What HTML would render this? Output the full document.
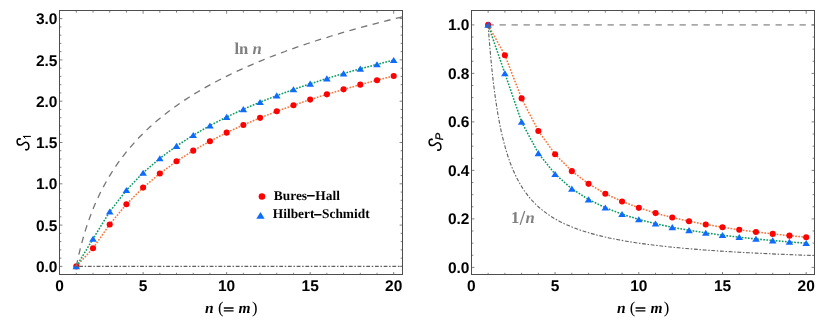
<!DOCTYPE html>
<html><head><meta charset="utf-8"><title>chart</title>
<style>
html,body{margin:0;padding:0;background:#fff;}
body{width:830px;height:328px;overflow:hidden;}
svg{display:block;will-change:transform;}
text{text-rendering:geometricPrecision;}
.tk{font-family:"Liberation Sans",sans-serif;font-weight:bold;font-size:15.5px;fill:#000;}
.ax{font-family:"Liberation Serif",serif;font-weight:bold;font-style:italic;font-size:15.5px;fill:#000;}
.axr{font-family:"Liberation Serif",serif;font-size:16.6px;fill:#000;}
.sub{font-family:"Liberation Sans",sans-serif;font-size:11px;fill:#000;}
.subi{font-family:"Liberation Sans",sans-serif;font-style:italic;font-size:11px;fill:#000;}
.an{font-family:"Liberation Serif",serif;font-weight:bold;font-size:16.6px;fill:#808080;}
.ani{font-style:italic;}
.lg{font-family:"Liberation Serif",serif;font-weight:bold;font-size:13.4px;fill:#000;}
</style></head><body>
<svg width="830" height="328" viewBox="0 0 830 328">
<rect width="830" height="328" fill="#fff"/>
<clipPath id="cl"><rect x="59.5" y="10.5" width="343.0" height="264.0"/></clipPath>
<g clip-path="url(#cl)" fill="none">
<path d="M76.3 266.4L93.0 248.3L109.7 224.4L126.4 204.3L143.1 187.6L159.8 173.5L176.5 161.3L193.2 150.7L209.9 141.2L226.6 132.7L243.4 124.9L260.1 117.9L276.8 111.3L293.5 105.3L310.2 99.6L326.9 94.3L343.6 89.4L360.3 84.7L377.0 80.2L393.7 76.0" stroke="#F8763E" stroke-width="1.55" stroke-dasharray="1.7 1.4"/>
<path d="M76.3 266.4L93.0 238.9L109.7 211.7L126.4 190.2L143.1 172.8L159.8 158.4L176.5 146.0L193.2 135.2L209.9 125.6L226.6 117.0L243.4 109.2L260.1 102.1L276.8 95.6L293.5 89.5L310.2 83.8L326.9 78.5L343.6 73.5L360.3 68.8L377.0 64.4L393.7 60.1" stroke="#0C9B64" stroke-width="1.55" stroke-dasharray="1.7 1.4"/>
</g>
<circle cx="76.31" cy="266.40" r="3.05" fill="#FC0202"/>
<circle cx="93.01" cy="248.26" r="3.05" fill="#FC0202"/>
<circle cx="109.72" cy="224.44" r="3.05" fill="#FC0202"/>
<circle cx="126.42" cy="204.30" r="3.05" fill="#FC0202"/>
<circle cx="143.12" cy="187.59" r="3.05" fill="#FC0202"/>
<circle cx="159.83" cy="173.48" r="3.05" fill="#FC0202"/>
<circle cx="176.53" cy="161.32" r="3.05" fill="#FC0202"/>
<circle cx="193.24" cy="150.66" r="3.05" fill="#FC0202"/>
<circle cx="209.94" cy="141.19" r="3.05" fill="#FC0202"/>
<circle cx="226.65" cy="132.67" r="3.05" fill="#FC0202"/>
<circle cx="243.35" cy="124.94" r="3.05" fill="#FC0202"/>
<circle cx="260.06" cy="117.85" r="3.05" fill="#FC0202"/>
<circle cx="276.76" cy="111.32" r="3.05" fill="#FC0202"/>
<circle cx="293.47" cy="105.26" r="3.05" fill="#FC0202"/>
<circle cx="310.18" cy="99.62" r="3.05" fill="#FC0202"/>
<circle cx="326.88" cy="94.33" r="3.05" fill="#FC0202"/>
<circle cx="343.58" cy="89.36" r="3.05" fill="#FC0202"/>
<circle cx="360.29" cy="84.67" r="3.05" fill="#FC0202"/>
<circle cx="377.00" cy="80.22" r="3.05" fill="#FC0202"/>
<circle cx="393.70" cy="76.01" r="3.05" fill="#FC0202"/>
<path d="M76.31 263.20 L80.11 269.30 L72.51 269.30 Z" fill="#0F6BFB"/>
<path d="M93.01 235.67 L96.81 241.77 L89.21 241.77 Z" fill="#0F6BFB"/>
<path d="M109.72 208.49 L113.52 214.59 L105.92 214.59 Z" fill="#0F6BFB"/>
<path d="M126.42 187.01 L130.22 193.11 L122.62 193.11 Z" fill="#0F6BFB"/>
<path d="M143.12 169.65 L146.93 175.75 L139.32 175.75 Z" fill="#0F6BFB"/>
<path d="M159.83 155.17 L163.63 161.27 L156.03 161.27 Z" fill="#0F6BFB"/>
<path d="M176.53 142.79 L180.34 148.89 L172.73 148.89 Z" fill="#0F6BFB"/>
<path d="M193.24 131.99 L197.04 138.09 L189.44 138.09 Z" fill="#0F6BFB"/>
<path d="M209.94 122.42 L213.74 128.52 L206.14 128.52 Z" fill="#0F6BFB"/>
<path d="M226.65 113.83 L230.45 119.93 L222.85 119.93 Z" fill="#0F6BFB"/>
<path d="M243.35 106.04 L247.16 112.14 L239.55 112.14 Z" fill="#0F6BFB"/>
<path d="M260.06 98.91 L263.86 105.01 L256.26 105.01 Z" fill="#0F6BFB"/>
<path d="M276.76 92.35 L280.56 98.45 L272.96 98.45 Z" fill="#0F6BFB"/>
<path d="M293.47 86.27 L297.27 92.37 L289.67 92.37 Z" fill="#0F6BFB"/>
<path d="M310.18 80.60 L313.98 86.70 L306.38 86.70 Z" fill="#0F6BFB"/>
<path d="M326.88 75.30 L330.68 81.40 L323.08 81.40 Z" fill="#0F6BFB"/>
<path d="M343.58 70.31 L347.38 76.41 L339.78 76.41 Z" fill="#0F6BFB"/>
<path d="M360.29 65.61 L364.09 71.71 L356.49 71.71 Z" fill="#0F6BFB"/>
<path d="M377.00 61.16 L380.80 67.26 L373.19 67.26 Z" fill="#0F6BFB"/>
<path d="M393.70 56.93 L397.50 63.03 L389.90 63.03 Z" fill="#0F6BFB"/>
<g clip-path="url(#cl)" fill="none">
<path d="M76.3 266.4L76.5 265.6L76.8 264.1L77.2 262.0L77.7 259.6L78.4 256.9L79.0 253.9L79.8 250.7L80.6 247.3L81.5 243.9L82.5 240.3L83.5 236.7L84.6 233.1L85.7 229.4L86.9 225.7L88.2 222.1L89.5 218.4L90.8 214.8L92.2 211.2L93.6 207.6L95.1 204.1L96.6 200.6L98.2 197.2L99.8 193.8L101.5 190.5L103.2 187.2L104.9 184.0L106.7 180.8L108.5 177.6L110.4 174.6L112.3 171.5L114.2 168.5L116.2 165.6L118.2 162.7L120.3 159.9L122.3 157.1L124.5 154.3L126.6 151.6L128.8 149.0L131.1 146.4L133.3 143.8L135.6 141.2L137.9 138.7L140.3 136.3L142.7 133.9L145.1 131.5L147.6 129.1L150.1 126.8L152.6 124.6L155.2 122.3L157.8 120.1L160.4 117.9L163.1 115.8L165.7 113.7L168.5 111.6L171.2 109.5L174.0 107.5L176.8 105.5L179.6 103.5L182.5 101.6L185.4 99.6L188.3 97.7L191.3 95.9L194.2 94.0L197.2 92.2L200.3 90.4L203.3 88.6L206.4 86.9L209.6 85.1L212.7 83.4L215.9 81.7L219.1 80.0L222.3 78.4L225.6 76.7L228.9 75.1L232.2 73.5L235.5 71.9L238.9 70.4L242.3 68.8L245.7 67.3L249.1 65.8L252.6 64.3L256.1 62.8L259.6 61.3L263.2 59.9L266.7 58.4L270.3 57.0L274.0 55.6L277.6 54.2L281.3 52.8L285.0 51.5L288.7 50.1L292.4 48.8L296.2 47.4L300.0 46.1L303.8 44.8L307.7 43.5L311.5 42.3L315.4 41.0L319.4 39.7L323.3 38.5L327.3 37.3L331.2 36.0L335.3 34.8L339.3 33.6L343.3 32.4L347.4 31.3L351.5 30.1L355.7 28.9L359.8 27.8L364.0 26.6L368.2 25.5L372.4 24.4L376.6 23.3L380.9 22.2L385.2 21.1L389.5 20.0L393.8 18.9L398.2 17.9L402.6 16.8" stroke="#757575" stroke-width="1.3" stroke-dasharray="6.5 5.5"/>
<path d="M76.31 266.40 L402.50 266.40" stroke="#606060" stroke-width="1.1" stroke-dasharray="3.8 1.7 1.5 1.7" stroke-dashoffset="5.85"/>
</g>
<clipPath id="cr"><rect x="471.5" y="10.5" width="343.0" height="264.0"/></clipPath>
<g clip-path="url(#cr)" fill="none">
<path d="M487.54 24.90 L814.50 24.90" stroke="#a8a8a8" stroke-width="1.9" stroke-dasharray="6.3 5.7"/>
<path d="M488.1 24.9L504.9 55.2L521.6 98.4L538.4 131.0L555.1 154.2L571.8 171.1L588.6 183.8L605.3 193.7L622.1 201.5L638.8 207.8L655.5 213.1L672.3 217.5L689.0 221.3L705.8 224.5L722.5 227.3L739.2 229.8L756.0 232.0L772.7 233.9L789.5 235.7L806.2 237.2" stroke="#F8763E" stroke-width="1.55" stroke-dasharray="1.7 1.4"/>
<path d="M488.1 24.9L504.9 73.4L521.6 121.9L538.4 153.3L555.1 174.1L571.8 188.8L588.6 199.5L605.3 207.7L622.1 214.2L638.8 219.4L655.5 223.7L672.3 227.3L689.0 230.3L705.8 232.9L722.5 235.2L739.2 237.2L756.0 239.0L772.7 240.5L789.5 241.9L806.2 243.2" stroke="#0C9B64" stroke-width="1.55" stroke-dasharray="1.7 1.4"/>
</g>
<circle cx="488.14" cy="24.90" r="3.05" fill="#FC0202"/>
<circle cx="504.88" cy="55.21" r="3.05" fill="#FC0202"/>
<circle cx="521.62" cy="98.38" r="3.05" fill="#FC0202"/>
<circle cx="538.36" cy="130.99" r="3.05" fill="#FC0202"/>
<circle cx="555.10" cy="154.23" r="3.05" fill="#FC0202"/>
<circle cx="571.84" cy="171.14" r="3.05" fill="#FC0202"/>
<circle cx="588.58" cy="183.85" r="3.05" fill="#FC0202"/>
<circle cx="605.32" cy="193.69" r="3.05" fill="#FC0202"/>
<circle cx="622.06" cy="201.50" r="3.05" fill="#FC0202"/>
<circle cx="638.80" cy="207.84" r="3.05" fill="#FC0202"/>
<circle cx="655.54" cy="213.09" r="3.05" fill="#FC0202"/>
<circle cx="672.28" cy="217.50" r="3.05" fill="#FC0202"/>
<circle cx="689.02" cy="221.26" r="3.05" fill="#FC0202"/>
<circle cx="705.76" cy="224.49" r="3.05" fill="#FC0202"/>
<circle cx="722.50" cy="227.30" r="3.05" fill="#FC0202"/>
<circle cx="739.24" cy="229.77" r="3.05" fill="#FC0202"/>
<circle cx="755.98" cy="231.96" r="3.05" fill="#FC0202"/>
<circle cx="772.72" cy="233.91" r="3.05" fill="#FC0202"/>
<circle cx="789.46" cy="235.65" r="3.05" fill="#FC0202"/>
<circle cx="806.20" cy="237.22" r="3.05" fill="#FC0202"/>
<path d="M488.14 21.70 L491.94 27.80 L484.34 27.80 Z" fill="#0F6BFB"/>
<path d="M504.88 70.20 L508.68 76.30 L501.08 76.30 Z" fill="#0F6BFB"/>
<path d="M521.62 118.70 L525.42 124.80 L517.82 124.80 Z" fill="#0F6BFB"/>
<path d="M538.36 150.08 L542.16 156.18 L534.56 156.18 Z" fill="#0F6BFB"/>
<path d="M555.10 170.93 L558.90 177.03 L551.30 177.03 Z" fill="#0F6BFB"/>
<path d="M571.84 185.55 L575.64 191.65 L568.04 191.65 Z" fill="#0F6BFB"/>
<path d="M588.58 196.30 L592.38 202.40 L584.78 202.40 Z" fill="#0F6BFB"/>
<path d="M605.32 204.51 L609.12 210.61 L601.52 210.61 Z" fill="#0F6BFB"/>
<path d="M622.06 210.97 L625.86 217.07 L618.26 217.07 Z" fill="#0F6BFB"/>
<path d="M638.80 216.18 L642.60 222.28 L635.00 222.28 Z" fill="#0F6BFB"/>
<path d="M655.54 220.47 L659.34 226.57 L651.74 226.57 Z" fill="#0F6BFB"/>
<path d="M672.28 224.06 L676.08 230.16 L668.48 230.16 Z" fill="#0F6BFB"/>
<path d="M689.02 227.11 L692.82 233.21 L685.22 233.21 Z" fill="#0F6BFB"/>
<path d="M705.76 229.73 L709.56 235.83 L701.96 235.83 Z" fill="#0F6BFB"/>
<path d="M722.50 232.01 L726.30 238.11 L718.70 238.11 Z" fill="#0F6BFB"/>
<path d="M739.24 234.01 L743.04 240.11 L735.44 240.11 Z" fill="#0F6BFB"/>
<path d="M755.98 235.77 L759.78 241.87 L752.18 241.87 Z" fill="#0F6BFB"/>
<path d="M772.72 237.34 L776.52 243.44 L768.92 243.44 Z" fill="#0F6BFB"/>
<path d="M789.46 238.74 L793.26 244.84 L785.66 244.84 Z" fill="#0F6BFB"/>
<path d="M806.20 240.01 L810.00 246.11 L802.40 246.11 Z" fill="#0F6BFB"/>
<g clip-path="url(#cr)" fill="none">
<path d="M488.1 24.9L488.3 27.1L488.6 31.6L489.0 37.3L489.6 44.0L490.2 51.4L490.9 59.1L491.7 67.0L492.5 74.9L493.4 82.8L494.4 90.6L495.4 98.1L496.5 105.4L497.6 112.5L498.8 119.2L500.0 125.6L501.3 131.8L502.7 137.6L504.1 143.1L505.5 148.4L507.0 153.3L508.5 158.0L510.1 162.5L511.7 166.7L513.4 170.7L515.1 174.4L516.8 178.0L518.6 181.4L520.4 184.6L522.3 187.6L524.2 190.5L526.1 193.2L528.1 195.8L530.1 198.3L532.2 200.6L534.3 202.8L536.4 205.0L538.6 207.0L540.8 208.9L543.0 210.7L545.3 212.4L547.6 214.1L549.9 215.7L552.3 217.2L554.7 218.7L557.1 220.0L559.6 221.4L562.1 222.6L564.6 223.9L567.2 225.0L569.8 226.1L572.4 227.2L575.1 228.2L577.8 229.2L580.5 230.2L583.2 231.1L586.0 232.0L588.8 232.8L591.7 233.6L594.5 234.4L597.4 235.2L600.4 235.9L603.3 236.6L606.3 237.3L609.3 238.0L612.4 238.6L615.4 239.2L618.5 239.8L621.7 240.4L624.8 240.9L628.0 241.5L631.2 242.0L634.5 242.5L637.7 243.0L641.0 243.5L644.3 243.9L647.7 244.4L651.1 244.8L654.5 245.2L657.9 245.6L661.3 246.0L664.8 246.4L668.3 246.8L671.8 247.1L675.4 247.5L679.0 247.8L682.6 248.2L686.2 248.5L689.9 248.8L693.5 249.1L697.2 249.4L701.0 249.7L704.7 250.0L708.5 250.3L712.3 250.5L716.1 250.8L720.0 251.1L723.9 251.3L727.8 251.6L731.7 251.8L735.6 252.0L739.6 252.3L743.6 252.5L747.6 252.7L751.7 252.9L755.7 253.1L759.8 253.3L763.9 253.5L768.1 253.7L772.2 253.9L776.4 254.1L780.6 254.3L784.8 254.4L789.1 254.6L793.4 254.8L797.7 255.0L802.0 255.1L806.3 255.3L810.7 255.4L815.1 255.6" stroke="#606060" stroke-width="1.1" stroke-dasharray="3.8 1.7 1.5 1.7"/>
</g>
<path d="M76.31 274.50v-1.70M76.31 10.50v2.20M93.01 274.50v-1.70M93.01 10.50v2.20M109.72 274.50v-1.70M109.72 10.50v2.20M126.42 274.50v-1.70M126.42 10.50v2.20M143.12 274.50v-2.50M143.12 10.50v3.20M159.83 274.50v-1.70M159.83 10.50v2.20M176.53 274.50v-1.70M176.53 10.50v2.20M193.24 274.50v-1.70M193.24 10.50v2.20M209.94 274.50v-1.70M209.94 10.50v2.20M226.65 274.50v-2.50M226.65 10.50v3.20M243.35 274.50v-1.70M243.35 10.50v2.20M260.06 274.50v-1.70M260.06 10.50v2.20M276.76 274.50v-1.70M276.76 10.50v2.20M293.47 274.50v-1.70M293.47 10.50v2.20M310.18 274.50v-2.50M310.18 10.50v3.20M326.88 274.50v-1.70M326.88 10.50v2.20M343.58 274.50v-1.70M343.58 10.50v2.20M360.29 274.50v-1.70M360.29 10.50v2.20M377.00 274.50v-1.70M377.00 10.50v2.20M393.70 274.50v-2.50M393.70 10.50v3.20M59.50 266.40h2.9M402.50 266.40h-2.9M59.50 225.10h2.9M402.50 225.10h-2.9M59.50 183.80h2.9M402.50 183.80h-2.9M59.50 142.50h2.9M402.50 142.50h-2.9M59.50 101.20h2.9M402.50 101.20h-2.9M59.50 59.90h2.9M402.50 59.90h-2.9M59.50 18.60h2.9M402.50 18.60h-2.9M59.50 258.14h1.9M402.50 258.14h-1.9M59.50 249.88h1.9M402.50 249.88h-1.9M59.50 241.62h1.9M402.50 241.62h-1.9M59.50 233.36h1.9M402.50 233.36h-1.9M59.50 216.84h1.9M402.50 216.84h-1.9M59.50 208.58h1.9M402.50 208.58h-1.9M59.50 200.32h1.9M402.50 200.32h-1.9M59.50 192.06h1.9M402.50 192.06h-1.9M59.50 175.54h1.9M402.50 175.54h-1.9M59.50 167.28h1.9M402.50 167.28h-1.9M59.50 159.02h1.9M402.50 159.02h-1.9M59.50 150.76h1.9M402.50 150.76h-1.9M59.50 134.24h1.9M402.50 134.24h-1.9M59.50 125.98h1.9M402.50 125.98h-1.9M59.50 117.72h1.9M402.50 117.72h-1.9M59.50 109.46h1.9M402.50 109.46h-1.9M59.50 92.94h1.9M402.50 92.94h-1.9M59.50 84.68h1.9M402.50 84.68h-1.9M59.50 76.42h1.9M402.50 76.42h-1.9M59.50 68.16h1.9M402.50 68.16h-1.9M59.50 51.64h1.9M402.50 51.64h-1.9M59.50 43.38h1.9M402.50 43.38h-1.9M59.50 35.12h1.9M402.50 35.12h-1.9M59.50 26.86h1.9M402.50 26.86h-1.9" stroke="#7c7c7c" stroke-width="0.95" fill="none"/>
<rect x="59.5" y="10.5" width="343.0" height="264.0" fill="none" stroke="#4d4d4d" stroke-width="1"/>
<text x="57.5" y="272.0" text-anchor="end" class="tk">0.0</text>
<text x="57.5" y="230.7" text-anchor="end" class="tk">0.5</text>
<text x="57.5" y="189.4" text-anchor="end" class="tk">1.0</text>
<text x="57.5" y="148.1" text-anchor="end" class="tk">1.5</text>
<text x="57.5" y="106.8" text-anchor="end" class="tk">2.0</text>
<text x="57.5" y="65.5" text-anchor="end" class="tk">2.5</text>
<text x="57.5" y="24.2" text-anchor="end" class="tk">3.0</text>
<text x="59.6" y="291.4" text-anchor="middle" class="tk">0</text>
<text x="143.1" y="291.4" text-anchor="middle" class="tk">5</text>
<text x="226.6" y="291.4" text-anchor="middle" class="tk">10</text>
<text x="310.2" y="291.4" text-anchor="middle" class="tk">15</text>
<text x="393.7" y="291.4" text-anchor="middle" class="tk">20</text>
<path d="M488.14 274.50v-1.70M488.14 10.50v2.20M504.88 274.50v-1.70M504.88 10.50v2.20M521.62 274.50v-1.70M521.62 10.50v2.20M538.36 274.50v-1.70M538.36 10.50v2.20M555.10 274.50v-2.50M555.10 10.50v3.20M571.84 274.50v-1.70M571.84 10.50v2.20M588.58 274.50v-1.70M588.58 10.50v2.20M605.32 274.50v-1.70M605.32 10.50v2.20M622.06 274.50v-1.70M622.06 10.50v2.20M638.80 274.50v-2.50M638.80 10.50v3.20M655.54 274.50v-1.70M655.54 10.50v2.20M672.28 274.50v-1.70M672.28 10.50v2.20M689.02 274.50v-1.70M689.02 10.50v2.20M705.76 274.50v-1.70M705.76 10.50v2.20M722.50 274.50v-2.50M722.50 10.50v3.20M739.24 274.50v-1.70M739.24 10.50v2.20M755.98 274.50v-1.70M755.98 10.50v2.20M772.72 274.50v-1.70M772.72 10.50v2.20M789.46 274.50v-1.70M789.46 10.50v2.20M806.20 274.50v-2.50M806.20 10.50v3.20M471.50 267.40h2.9M814.50 267.40h-2.9M471.50 218.90h2.9M814.50 218.90h-2.9M471.50 170.40h2.9M814.50 170.40h-2.9M471.50 121.90h2.9M814.50 121.90h-2.9M471.50 73.40h2.9M814.50 73.40h-2.9M471.50 24.90h2.9M814.50 24.90h-2.9M471.50 255.27h1.9M814.50 255.27h-1.9M471.50 243.15h1.9M814.50 243.15h-1.9M471.50 231.02h1.9M814.50 231.02h-1.9M471.50 206.77h1.9M814.50 206.77h-1.9M471.50 194.65h1.9M814.50 194.65h-1.9M471.50 182.52h1.9M814.50 182.52h-1.9M471.50 158.27h1.9M814.50 158.27h-1.9M471.50 146.15h1.9M814.50 146.15h-1.9M471.50 134.02h1.9M814.50 134.02h-1.9M471.50 109.77h1.9M814.50 109.77h-1.9M471.50 97.65h1.9M814.50 97.65h-1.9M471.50 85.52h1.9M814.50 85.52h-1.9M471.50 61.27h1.9M814.50 61.27h-1.9M471.50 49.15h1.9M814.50 49.15h-1.9M471.50 37.02h1.9M814.50 37.02h-1.9" stroke="#7c7c7c" stroke-width="0.95" fill="none"/>
<rect x="471.5" y="10.5" width="343.0" height="264.0" fill="none" stroke="#4d4d4d" stroke-width="1"/>
<text x="469.5" y="272.6" text-anchor="end" class="tk">0.0</text>
<text x="469.5" y="224.1" text-anchor="end" class="tk">0.2</text>
<text x="469.5" y="175.6" text-anchor="end" class="tk">0.4</text>
<text x="469.5" y="127.1" text-anchor="end" class="tk">0.6</text>
<text x="469.5" y="78.6" text-anchor="end" class="tk">0.8</text>
<text x="469.5" y="30.1" text-anchor="end" class="tk">1.0</text>
<text x="471.4" y="291.4" text-anchor="middle" class="tk">0</text>
<text x="555.1" y="291.4" text-anchor="middle" class="tk">5</text>
<text x="638.8" y="291.4" text-anchor="middle" class="tk">10</text>
<text x="722.5" y="291.4" text-anchor="middle" class="tk">15</text>
<text x="806.2" y="291.4" text-anchor="middle" class="tk">20</text>
<text x="205.1" y="312.9" class="ax">n</text>
<text x="217.9" y="312.8" class="axr">(</text>
<path d="M223.8 308.0h9.8M223.8 310.9h9.8" stroke="#000" stroke-width="1.35" fill="none"/>
<text x="238.6" y="312.9" class="ax">m</text>
<text x="252.0" y="312.8" class="axr">)</text>
<text x="616.9" y="312.9" class="ax">n</text>
<text x="629.7" y="312.8" class="axr">(</text>
<path d="M635.6 308.0h9.8M635.6 310.9h9.8" stroke="#000" stroke-width="1.35" fill="none"/>
<text x="650.4" y="312.9" class="ax">m</text>
<text x="663.8" y="312.8" class="axr">)</text>
<g transform="translate(0.0 0.0)">
<path d="M19.7 138.8C18.0 138.5 17.0 140.0 17.1 141.6C17.2 143.6 18.6 145.1 20.4 145.1C22.6 145.1 23.6 142.6 25.7 142.3C27.6 142.0 28.9 144.4 28.9 146.5C28.9 148.5 27.9 149.9 26.1 149.7" fill="none" stroke="#000" stroke-width="1.5" stroke-linecap="round"/>
<circle cx="19.9" cy="138.9" r="0.95"/><circle cx="26.0" cy="149.6" r="0.95"/>
<path d="M23.1 136.45H30.8" stroke="#000" stroke-width="1.15" fill="none"/><path d="M23.5 136.6L25.5 138.5" stroke="#000" stroke-width="1.0" fill="none"/>
</g>
<g transform="translate(412.0 0.5)">
<path d="M19.7 138.8C18.0 138.5 17.0 140.0 17.1 141.6C17.2 143.6 18.6 145.1 20.4 145.1C22.6 145.1 23.6 142.6 25.7 142.3C27.6 142.0 28.9 144.4 28.9 146.5C28.9 148.5 27.9 149.9 26.1 149.7" fill="none" stroke="#000" stroke-width="1.5" stroke-linecap="round"/>
<circle cx="19.9" cy="138.9" r="0.95"/><circle cx="26.0" cy="149.6" r="0.95"/>
<text transform="translate(31.0 139.8) rotate(-90)" class="subi" stroke="#000" stroke-width="0.3">P</text>
</g>
<text x="234.4" y="53.7" class="an">ln<tspan dx="4.3" class="ani">n</tspan></text>
<text x="511.0" y="222.6" class="an">1</text>
<path d="M520.1 224.9L524.7 211.0" stroke="#808080" stroke-width="1.3"/>
<text x="525.6" y="222.6" class="an ani">n</text>
<circle cx="261.95" cy="196.50" r="3.30" fill="#FC0202"/>
<path d="M260.50 212.00 L264.68 218.70 L256.32 218.70 Z" fill="#0F6BFB"/>
<text x="273.8" y="199.5" class="lg">Bures</text><text x="315.3" y="199.5" class="lg">Hall</text>
<text x="272.8" y="217.6" class="lg">Hilbert</text><text x="322.0" y="217.6" class="lg">Schmidt</text>
<path d="M307.0 195.7H314.7M314.1 214.7H321.5" stroke="#000" stroke-width="1.5" fill="none"/>
</svg>
</body></html>
